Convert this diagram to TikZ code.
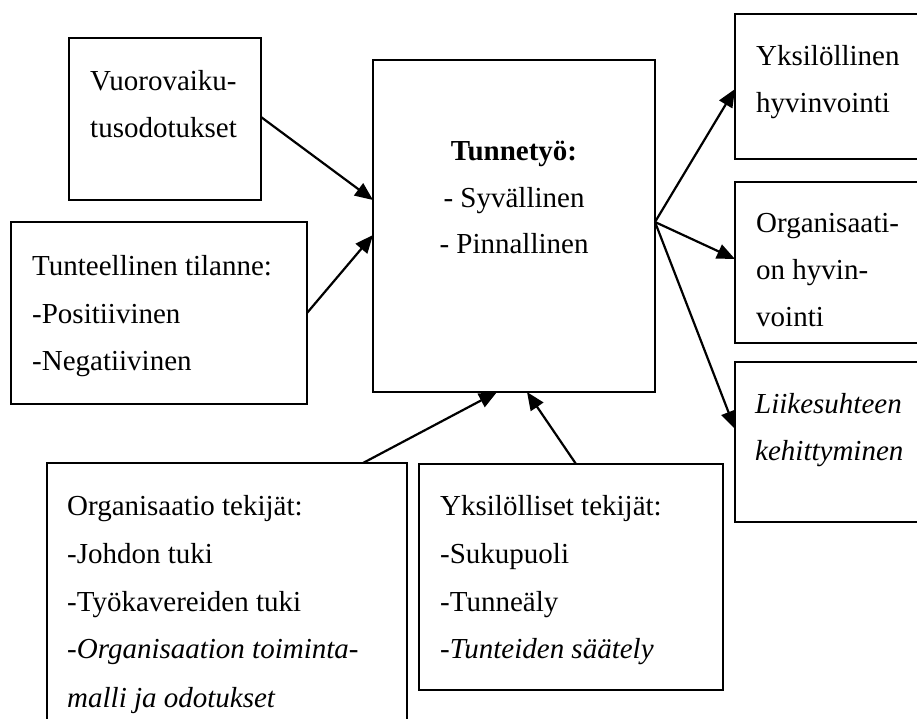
\documentclass[tikz,border=0pt]{standalone}
\usepackage{fontspec}
\setmainfont{Liberation Serif}
\usetikzlibrary{arrows.meta}
\begin{document}
\begin{tikzpicture}[x=1pt,y=-1pt,
  box/.style={draw=black,line width=2.2pt,rectangle,inner sep=0pt,outer sep=0pt},
  txt/.style={anchor=base west,inner sep=0pt,font=\fontsize{29}{35}\selectfont},
  ctxt/.style={anchor=base,inner sep=0pt,font=\fontsize{29}{35}\selectfont},
  arr/.style={line width=2.2pt,-{Triangle[length=18pt,width=15pt]}}]
\clip (0,0) rectangle (917,718);
\fill[white] (0,0) rectangle (917,718);
% boxes
\node[box,minimum width=192pt,minimum height=162pt] (vuoro) at (165,119) {};
\node[box,minimum width=296pt,minimum height=182pt] (tunt) at (159,313) {};
\node[box,minimum width=282pt,minimum height=332pt] (center) at (514,226) {};
\node[box,minimum width=195pt,minimum height=145pt] (yks) at (832.5,86.5) {};
\node[box,minimum width=195pt,minimum height=161pt] (org) at (832.5,262.5) {};
\node[box,minimum width=195pt,minimum height=160pt] (liike) at (832.5,442) {};
\node[box,minimum width=360pt,minimum height=277pt] (orgtek) at (227,601.5) {};
\node[box,minimum width=304pt,minimum height=226pt] (ykstek) at (571,577) {};
% texts
\node[txt] (v1) at (90,90) {Vuorovaiku-};
\node[txt] (v2) at (90,137) {tusodotukset};
\node[txt] (t1) at (32,275) {Tunteellinen tilanne:};
\node[txt] (t2) at (32,323) {-Positiivinen};
\node[txt] (t3) at (32,370) {-Negatiivinen};
\node[ctxt] (c1) at (514,160) {\textbf{Tunnetyö:}};
\node[ctxt] (c2) at (514,207) {- Syvällinen};
\node[ctxt] (c3) at (514,253) {- Pinnallinen};
\node[txt] (y1) at (756,65) {Yksilöllinen};
\node[txt] (y2) at (756,112) {hyvinvointi};
\node[txt] (o1) at (756,232) {Organisaati-};
\node[txt] (o2) at (756,279) {on hyvin-};
\node[txt] (o3) at (756,326) {vointi};
\node[txt] (l1) at (755,413) {\itshape Liikesuhteen};
\node[txt] (l2) at (755,460) {\itshape kehittyminen};
\node[txt] (ot1) at (67,515) {Organisaatio tekijät:};
\node[txt] (ot2) at (67,563) {-Johdon tuki};
\node[txt] (ot3) at (67,611) {-Työkavereiden tuki};
\node[txt] (ot4) at (67,658) {\itshape -Organisaation toiminta-};
\node[txt] (ot5) at (67,707) {\itshape malli ja odotukset};
\node[txt] (yt1) at (440,515) {Yksilölliset tekijät:};
\node[txt] (yt2) at (440,563) {-Sukupuoli};
\node[txt] (yt3) at (440,611) {-Tunneäly};
\node[txt] (yt4) at (440,658) {\itshape -Tunteiden säätely};
% arrows
\draw[arr] ([yshift=2pt]vuoro.east) -- ([yshift=26pt]center.west);
\draw[arr] (tunt.east) -- ([yshift=-9pt]center.west);
\draw[arr] ([yshift=4pt]center.east) -- ([yshift=-2.5pt]yks.west);
\draw[arr] ([yshift=4pt]center.east) -- ([yshift=3.5pt]org.west);
\draw[arr] ([yshift=4pt]center.east) -- ([yshift=13pt]liike.west);
\draw[arr] ([xshift=136pt]orgtek.north) -- ([xshift=-17pt]center.south);
\draw[arr] ([xshift=5pt]ykstek.north) -- ([xshift=13pt]center.south);
\end{tikzpicture}
\end{document}
